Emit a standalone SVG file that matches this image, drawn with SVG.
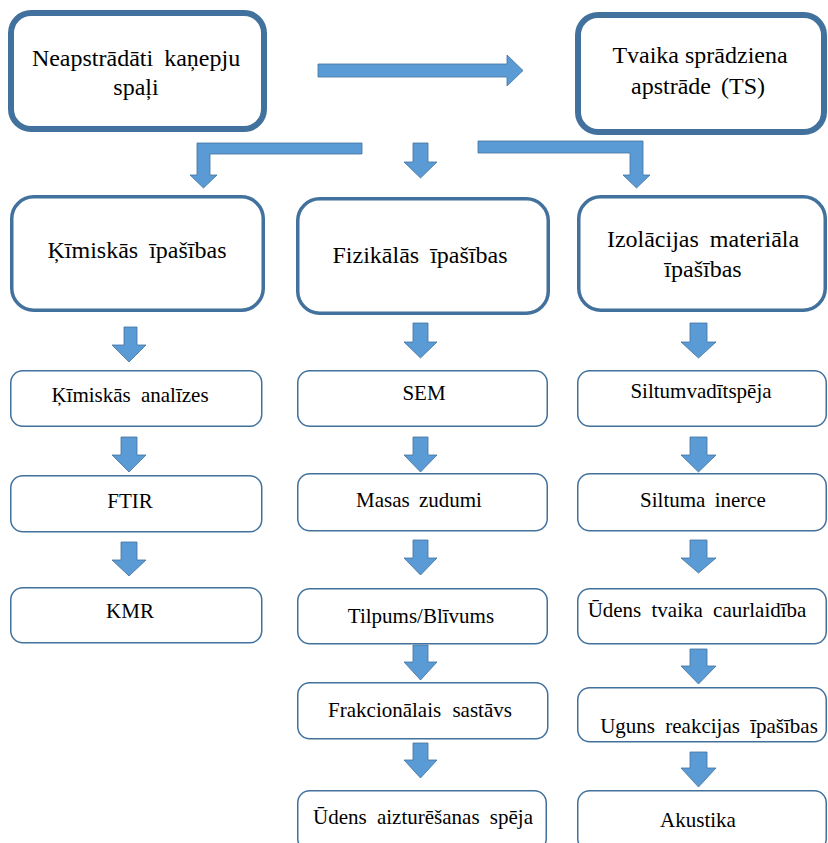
<svg xmlns="http://www.w3.org/2000/svg" width="828" height="843" viewBox="0 0 828 843">
<rect width="828" height="843" fill="#fff"/>
<g id="connectors" fill="#5B9BD5" stroke="#41719C" stroke-width="0.8">
<path d="M318,64 H507 V55 L523,70.5 L507,86 V77 H318 Z"/>
<path d="M362,143 V154 H210 V175 H217 L203.5,188 L190,175 H197 V143 Z"/>
<path d="M413,143 H428 V162 H437 L420.5,178 L404,162 H413 Z"/>
<path d="M478,141 H643 V175 H650 L636.5,188 L623,175 H630 V153 H478 Z"/>
<path d="M124,327 H137 V345 H146 L129,362 L112,345 H124 Z"/>
<path d="M413,323 H428 V342 H437 L420.5,358 L404,342 H413 Z"/>
<path d="M690,323 H707 V342 H716 L698.5,358 L681,342 H690 Z"/>
<path d="M121,437 H137 V455 H146 L129,472 L112,455 H121 Z"/>
<path d="M121,542 H137 V560 H146 L129,576 L112,560 H121 Z"/>
<path d="M413,437 H428 V455 H437 L420.5,472 L404,455 H413 Z"/>
<path d="M413,540 H428 V558 H437 L420.5,575 L404,558 H413 Z"/>
<path d="M413,645 H428 V662 H437 L420.5,680 L404,662 H413 Z"/>
<path d="M413,743 H428 V760 H437 L420.5,778 L404,760 H413 Z"/>
<path d="M690,437 H707 V455 H716 L698.5,472 L681,455 H690 Z"/>
<path d="M690,540 H707 V558 H716 L698.5,573 L681,558 H690 Z"/>
<path d="M690,649 H707 V666 H716 L698.5,684 L681,666 H690 Z"/>
<path d="M690,752 H707 V768 H716 L698.5,787 L681,768 H690 Z"/>
</g>
<g id="raw">
<rect x="11" y="13" width="253" height="116" rx="20" fill="#fff" stroke="#41719C" stroke-width="6"/>
<text font-family="Liberation Serif" font-size="24" word-spacing="5" text-anchor="middle" x="136" y="66">Neapstrādāti kaņepju</text>
<text font-family="Liberation Serif" font-size="24" text-anchor="middle" x="136" y="95">spaļi</text>
</g>
<g id="ts">
<rect x="578" y="15" width="246" height="117" rx="20" fill="#fff" stroke="#41719C" stroke-width="6"/>
<text font-family="Liberation Serif" font-size="24" text-anchor="middle" x="700" y="63">Tvaika sprādziena</text>
<text font-family="Liberation Serif" font-size="24" word-spacing="4" text-anchor="middle" x="698" y="94">apstrāde (TS)</text>
</g>
<g id="chem">
<rect x="11.75" y="196.75" width="251.5" height="113.5" rx="22" fill="#fff" stroke="#41719C" stroke-width="3.5"/>
<text font-family="Liberation Serif" font-size="24" word-spacing="5" text-anchor="middle" x="137" y="258">Ķīmiskās īpašības</text>
</g>
<g id="phys">
<rect x="297.75" y="198.75" width="250.5" height="114.5" rx="22" fill="#fff" stroke="#41719C" stroke-width="3.5"/>
<text font-family="Liberation Serif" font-size="24" word-spacing="5" text-anchor="middle" x="420" y="263">Fizikālās īpašības</text>
</g>
<g id="insul">
<rect x="578.75" y="196.75" width="246.5" height="113.5" rx="22" fill="#fff" stroke="#41719C" stroke-width="3.5"/>
<text font-family="Liberation Serif" font-size="24" word-spacing="5" text-anchor="middle" x="703" y="247">Izolācijas materiāla</text>
<text font-family="Liberation Serif" font-size="24" text-anchor="middle" x="703" y="277">īpašības</text>
</g>
<g id="chem1"><rect x="10.75" y="370.75" width="251" height="55.5" rx="12" fill="#fff" stroke="#41719C" stroke-width="1.5"/><text font-family="Liberation Serif" font-size="21" word-spacing="5" text-anchor="middle" x="130" y="402">Ķīmiskās analīzes</text></g>
<g id="chem2"><rect x="10.75" y="475.75" width="251" height="56" rx="12" fill="#fff" stroke="#41719C" stroke-width="1.5"/><text font-family="Liberation Serif" font-size="21" text-anchor="middle" x="130" y="508">FTIR</text></g>
<g id="chem3"><rect x="10.75" y="587.75" width="251" height="55" rx="12" fill="#fff" stroke="#41719C" stroke-width="1.5"/><text font-family="Liberation Serif" font-size="21" text-anchor="middle" x="130" y="618">KMR</text></g>
<g id="phys1"><rect x="297.75" y="370.75" width="249.5" height="55.5" rx="12" fill="#fff" stroke="#41719C" stroke-width="1.5"/><text font-family="Liberation Serif" font-size="21" text-anchor="middle" x="424" y="400">SEM</text></g>
<g id="phys2"><rect x="297.75" y="473.75" width="249.5" height="57" rx="12" fill="#fff" stroke="#41719C" stroke-width="1.5"/><text font-family="Liberation Serif" font-size="21" word-spacing="4" text-anchor="middle" x="419" y="507">Masas zudumi</text></g>
<g id="phys3"><rect x="297.75" y="588.75" width="249.5" height="55" rx="12" fill="#fff" stroke="#41719C" stroke-width="1.5"/><text font-family="Liberation Serif" font-size="21" text-anchor="middle" x="421" y="623">Tilpums/Blīvums</text></g>
<g id="phys4"><rect x="297.75" y="682.75" width="250" height="56" rx="12" fill="#fff" stroke="#41719C" stroke-width="1.5"/><text font-family="Liberation Serif" font-size="21" word-spacing="6" text-anchor="middle" x="420" y="717">Frakcionālais sastāvs</text></g>
<g id="phys5"><rect x="297.75" y="790.75" width="248.5" height="60" rx="12" fill="#fff" stroke="#41719C" stroke-width="1.5"/><text font-family="Liberation Serif" font-size="21" word-spacing="5" text-anchor="middle" x="423" y="824">Ūdens aizturēšanas spēja</text></g>
<g id="ins1"><rect x="577.75" y="370.75" width="248.5" height="55.5" rx="12" fill="#fff" stroke="#41719C" stroke-width="1.5"/><text font-family="Liberation Serif" font-size="21" text-anchor="middle" x="701" y="398">Siltumvadītspēja</text></g>
<g id="ins2"><rect x="577.75" y="473.75" width="248.5" height="57" rx="12" fill="#fff" stroke="#41719C" stroke-width="1.5"/><text font-family="Liberation Serif" font-size="21" word-spacing="4" text-anchor="middle" x="703" y="507">Siltuma inerce</text></g>
<g id="ins3"><rect x="577.75" y="588.75" width="248.5" height="55" rx="12" fill="#fff" stroke="#41719C" stroke-width="1.5"/><text font-family="Liberation Serif" font-size="21" word-spacing="5" text-anchor="middle" x="697" y="617">Ūdens tvaika caurlaidība</text></g>
<g id="ins4"><rect x="577.75" y="687.75" width="248.5" height="54" rx="12" fill="#fff" stroke="#41719C" stroke-width="1.5"/><text font-family="Liberation Serif" font-size="21" word-spacing="5" text-anchor="middle" x="709" y="733">Uguns reakcijas īpašības</text></g>
<g id="ins5"><rect x="577.75" y="790.75" width="248.5" height="60" rx="12" fill="#fff" stroke="#41719C" stroke-width="1.5"/><text font-family="Liberation Serif" font-size="21" text-anchor="middle" x="698" y="827">Akustika</text></g>
</svg>
